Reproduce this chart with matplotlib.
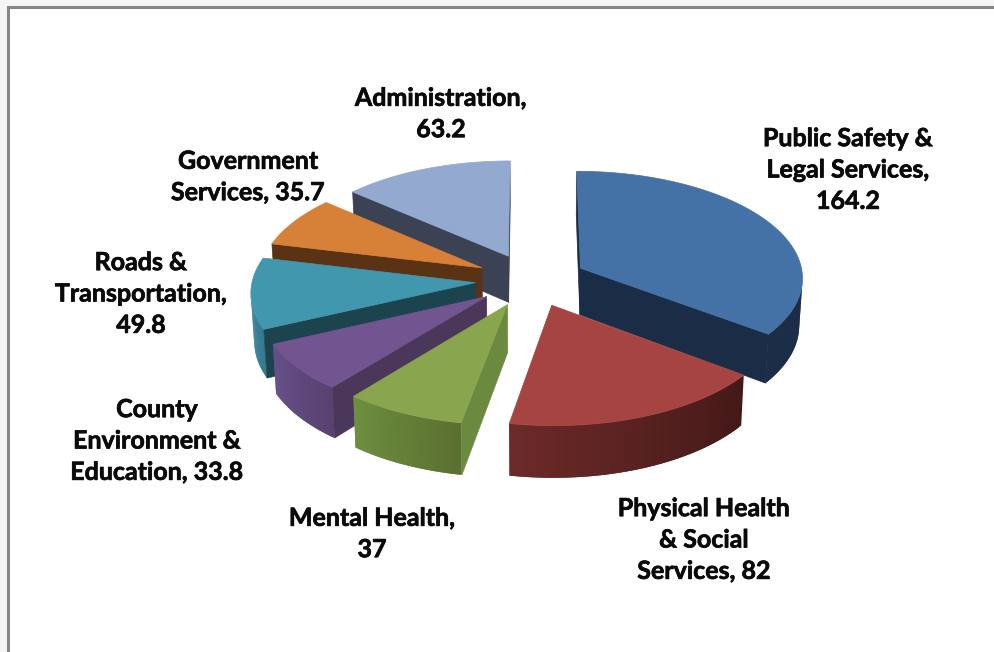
import numpy as np
import matplotlib
matplotlib.use("Agg")
import matplotlib.pyplot as plt
import matplotlib.patheffects as pe

# budget by service area, clockwise from twelve o'clock
labels = ["Public Safety &\nLegal Services,\n{}",
          "Physical Health\n& Social\nServices, {}",
          "Mental Health,\n{}",
          "County\nEnvironment &\nEducation, {}",
          "Roads &\nTransportation,\n{}",
          "Government\nServices, {}",
          "Administration,\n{}"]
values = [164.2, 82, 37, 33.8, 49.8, 35.7, 63.2]

top_colors = ["#4472A6", "#A64442", "#89A64E", "#725590", "#4097AE", "#D78038", "#93A9CF"]
side_colors = ["#1A2C46", "#451A17", "#6B8A3F", "#4B3759", "#1C444F", "#5A3214", "#3A4254"]
wall_start = ["#1B2D47", "#431917", "#5A7030", "#584270", "#347A92", "#5A3214", "#3A4254"]
wall_end = ["#1B2D47", "#6C2A29", "#6E8F3F", "#66508A", "#3D8DA6", "#5A3214", "#3A4254"]

label_pos = [(848, 170), (704, 540), (372, 534), (157, 441), (141, 294), (248, 177), (441, 114)]

# pie geometry in pixels
cx, cy = 531, 280
rx, ry = 223, 106.5
explode = 0.25
persp = 0.08
depth = 47


def project(u, v, low=0):
    s = 1 / (1 + persp * v)
    x = cx + rx * u * s * (1 - 0.012 * low)
    y = cy - ry * v * s + low * depth * s
    return x, y


def mix(c1, c2, t):
    a = np.array(matplotlib.colors.to_rgb(c1))
    b = np.array(matplotlib.colors.to_rgb(c2))
    return a + (b - a) * t


def facing(xs, ys):
    # screen winding tells whether a side face looks at the viewer
    return np.dot(xs, np.roll(ys, -1)) - np.dot(ys, np.roll(xs, -1)) > 0


fig = plt.figure(figsize=(9.94, 6.52), dpi=100, facecolor="#F5F5F5")
ax = fig.add_axes([0, 0, 1, 1])
ax.set_xlim(0, 994)
ax.set_ylim(652, 0)
ax.axis("off")

# chart area with its grey border on the top and left
ax.fill([7, 994, 994, 7], [6, 6, 652, 652], color="white", lw=0)
ax.plot([7.5, 7.5, 994], [652, 6.5, 6.5], color="#868686", lw=2.2, solid_joinstyle="miter")

total = sum(values)
ends = np.cumsum(values) / total * 2 * np.pi
starts = ends - np.array(values) / total * 2 * np.pi

# back slices first so the front ones overlap them
order = [6, 0, 5, 4, 3, 2, 1]
z = 2
for i in order:
    mid = (starts[i] + ends[i]) / 2
    ou, ov = explode * np.sin(mid), explode * np.cos(mid)
    th = np.linspace(starts[i], ends[i], 60)
    u = ou + np.sin(th)
    v = ov + np.cos(th)

    # outer wall, the strips overlap the next step so no seams show through
    for k in range(len(th) - 1):
        x1, y1 = project(u[k:k + 2], v[k:k + 2])
        x2, y2 = project(u[k:k + 2], v[k:k + 2], 1)
        xs = np.concatenate([x1, x2[::-1]])
        ys = np.concatenate([y1, y2[::-1]])
        if not facing(xs, ys):
            x1, y1 = project(u[k:k + 3], v[k:k + 3])
            x2, y2 = project(u[k:k + 3], v[k:k + 3], 1)
            ax.fill(np.concatenate([x1, x2[::-1]]), np.concatenate([y1, y2[::-1]]),
                    color=mix(wall_start[i], wall_end[i], k / (len(th) - 2)), lw=0, zorder=z)

    # the two cut faces
    for j, sign in [(0, -1), (-1, 1)]:
        x1, y1 = project(np.array([ou, u[j]]), np.array([ov, v[j]]))
        x2, y2 = project(np.array([ou, u[j]]), np.array([ov, v[j]]), 1)
        xs = np.concatenate([x1, x2[::-1]])
        ys = np.concatenate([y1, y2[::-1]])
        if facing(xs, ys) == (sign > 0):
            ax.fill(xs, ys, color=side_colors[i], lw=0.5, zorder=z)

    # top surface
    xt, yt = project(np.concatenate([[ou], u]), np.concatenate([[ov], v]))
    ax.fill(xt, yt, color=top_colors[i], lw=0.5, zorder=z + 1)
    z += 2

for i in range(len(values)):
    ax.text(label_pos[i][0], label_pos[i][1], labels[i].format(values[i]), ha="center", va="center",
            family="Lato", weight="bold", fontsize=18, linespacing=1.44, color="#0A0A0A", zorder=30,
            path_effects=[pe.withStroke(linewidth=0.5, foreground="#0A0A0A")])

fig.savefig("out.png", dpi=100, facecolor=fig.get_facecolor())
